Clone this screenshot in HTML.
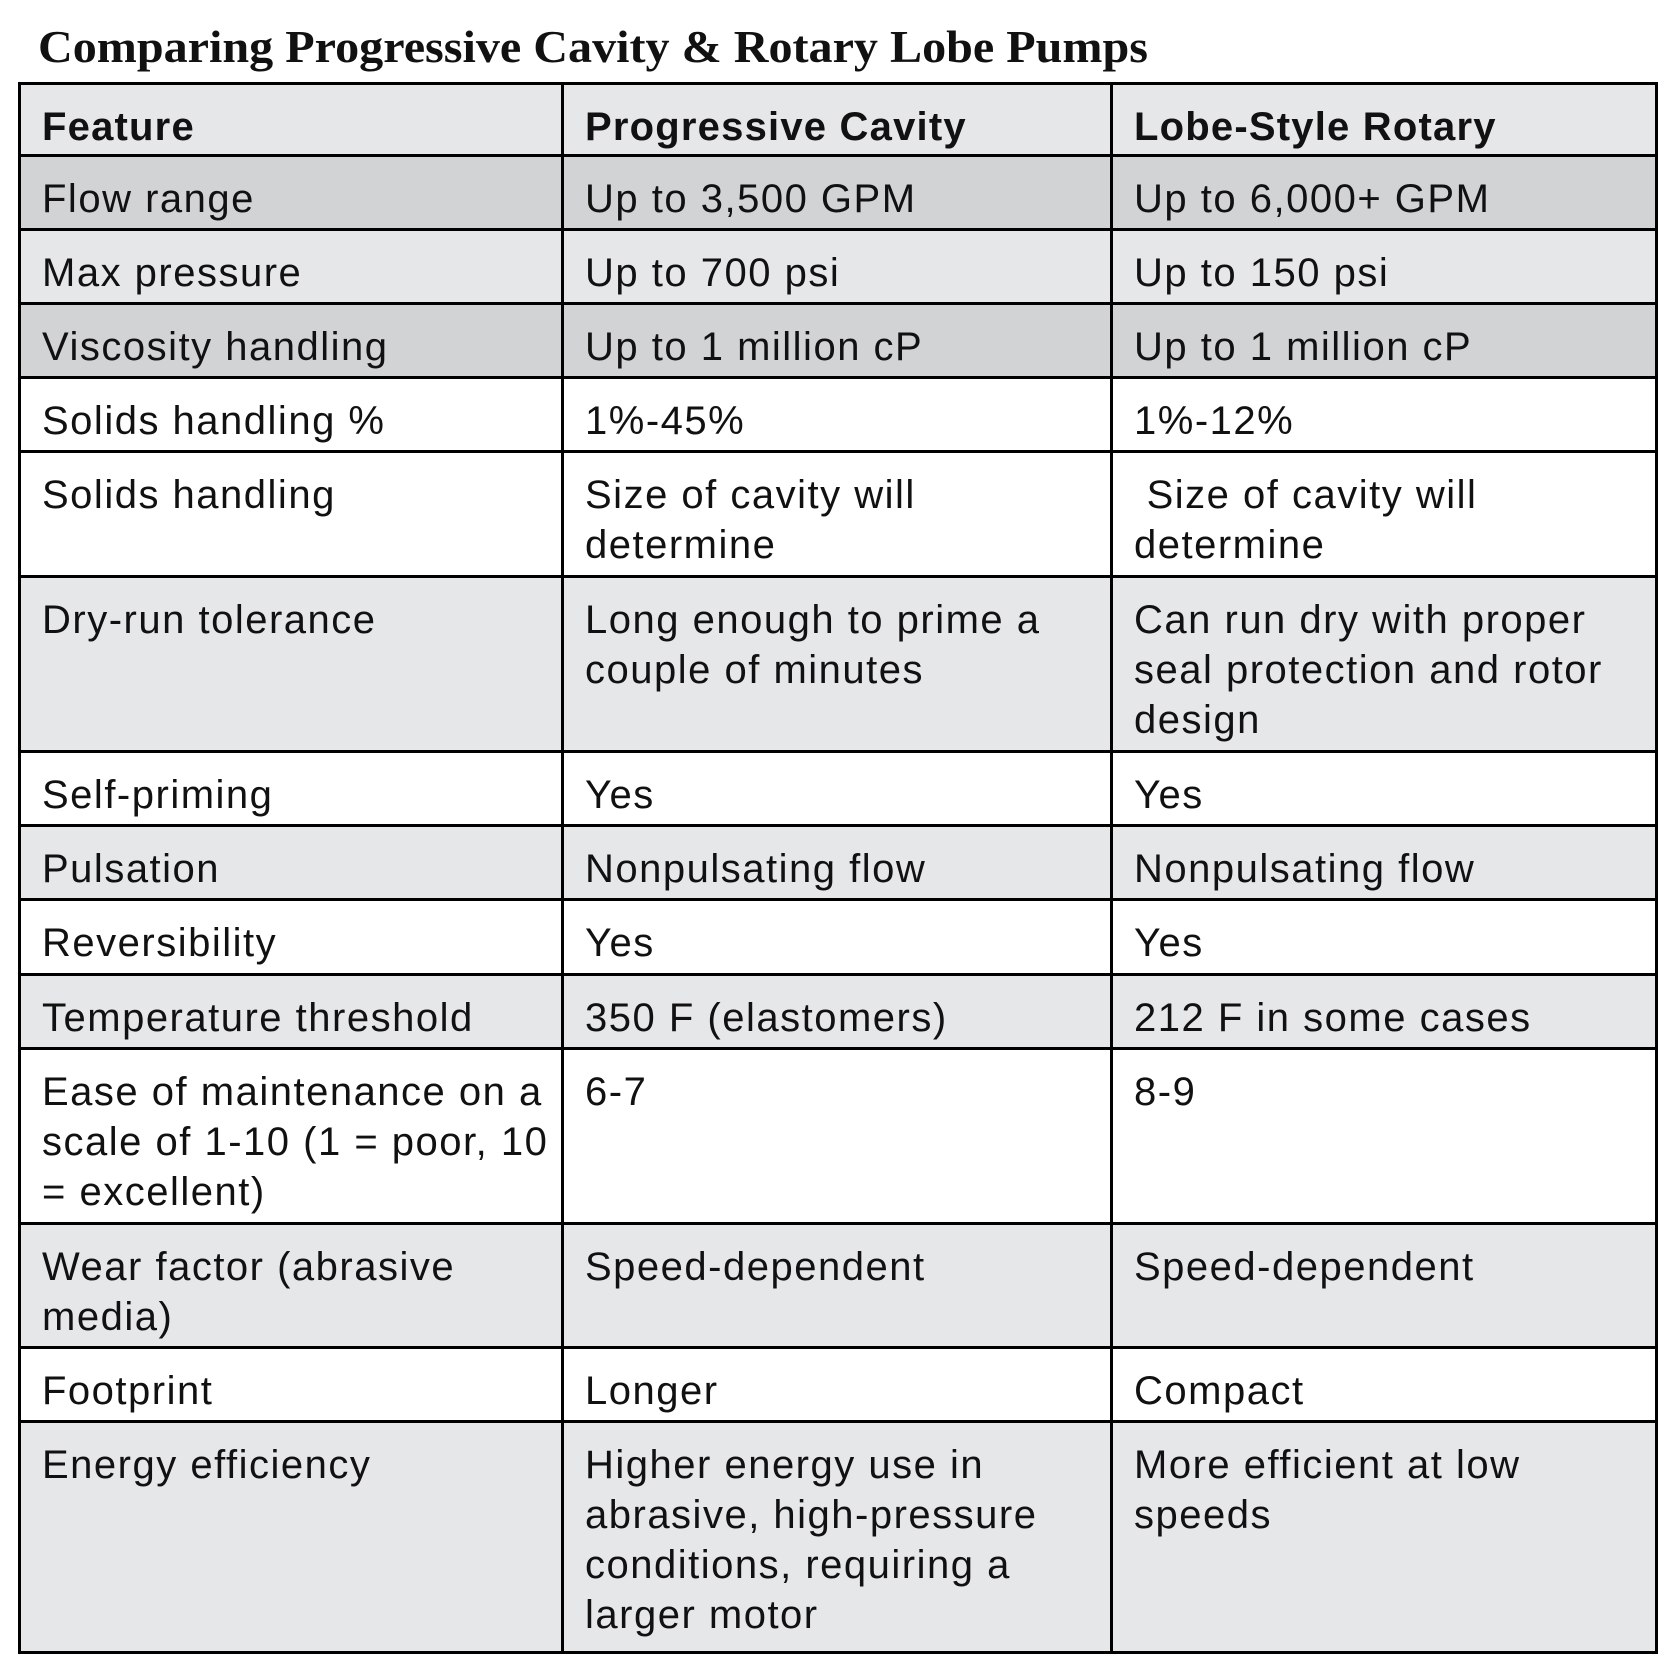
<!DOCTYPE html>
<html><head><meta charset="utf-8"><style>
body{margin:0;width:1679px;height:1666px;background:#fff;position:relative;overflow:hidden;font-family:"Liberation Sans",sans-serif;}
.c{position:absolute;box-sizing:border-box;padding:17px 6px 0 21px;font-size:40px;letter-spacing:1.5px;line-height:50px;color:#111;border-right:3px solid #000;border-bottom:3px solid #000;white-space:nowrap;}
.h{font-weight:bold;letter-spacing:1.2px;}
</style></head><body>
<svg style="position:absolute;left:0;top:0" width="1679" height="80"><text x="38" y="62" font-family="Liberation Serif" font-weight="bold" font-size="46" textLength="1110" lengthAdjust="spacingAndGlyphs" fill="#111">Comparing Progressive Cavity &amp; Rotary Lobe Pumps</text></svg>
<div id="t" style="position:absolute;left:18px;top:82px;border-left:3px solid #000;border-top:3px solid #000;width:1640px;height:1572px;box-sizing:border-box"></div>
<script>
const rows=[
["Feature","Progressive Cavity","Lobe-Style Rotary"],
["Flow range","Up to 3,500 GPM","Up to 6,000+ GPM"],
["Max pressure","Up to 700 psi","Up to 150 psi"],
["Viscosity handling","Up to 1 million cP","Up to 1 million cP"],
["Solids handling %","1%-45%","1%-12%"],
["Solids handling","Size of cavity will<br>determine","&nbsp;Size of cavity will<br>determine"],
["Dry-run tolerance","Long enough to prime a<br>couple of minutes","Can run dry with proper<br>seal protection and rotor<br>design"],
["Self-priming","Yes","Yes"],
["Pulsation","Nonpulsating flow","Nonpulsating flow"],
["Reversibility","Yes","Yes"],
["Temperature threshold","350 F (elastomers)","212 F in some cases"],
["Ease of maintenance on a<br>scale of 1-10 (1 = poor, 10<br>= excellent)","6-7","8-9"],
["Wear factor (abrasive<br>media)","Speed-dependent","Speed-dependent"],
["Footprint","Longer","Compact"],
["Energy efficiency","Higher energy use in<br>abrasive, high-pressure<br>conditions, requiring a<br>larger motor","More efficient at low<br>speeds"]];
const ys=[82,157,231,305,379,453,578,753,827,901,976,1050,1225,1349,1423,1654];
const bgs=["#e6e7e9","#d1d3d4","#e6e7e9","#d1d3d4","#fff","#fff","#e6e7e9","#fff","#e6e7e9","#fff","#e6e7e9","#fff","#e6e7e9","#fff","#e6e7e9"];
const xs=[18,564,1113,1658];
const t=document.body;
rows.forEach((r,i)=>{r.forEach((txt,j)=>{
const d=document.createElement('div');


d.className='c'+(i==0?' h':'');
const x0=j==0?xs[0]+3:xs[j], y0=i==0?ys[0]+3:ys[i];
d.style.left=x0+'px';d.style.top=y0+'px';
d.style.width=(xs[j+1]-x0)+'px';d.style.height=(ys[i+1]-y0)+'px';
d.style.background=bgs[i];
d.innerHTML=txt;t.appendChild(d);});});
</script>
</body></html>
